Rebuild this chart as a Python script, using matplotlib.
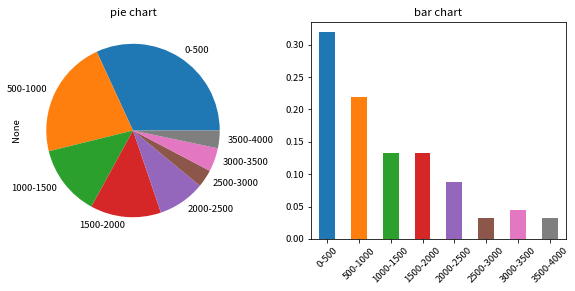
import matplotlib
matplotlib.use("Agg")
import matplotlib.pyplot as plt
import numpy as np

plt.rcParams['font.family'] = ['Noto Sans CJK SC', 'DejaVu Sans']
plt.rcParams['font.size'] = 9.5
plt.rcParams['axes.unicode_minus'] = False

categories = ['0-500', '500-1000', '1000-1500', '1500-2000', '2000-2500',
              '2500-3000', '3000-3500', '3500-4000']
shares = [0.319, 0.220, 0.132, 0.132, 0.088, 0.033, 0.044, 0.033]
colors = ['#1f77b4', '#ff7f0e', '#2ca02c', '#d62728', '#9467bd',
          '#8c564b', '#e377c2', '#7f7f7f']

fig = plt.figure(figsize=(575/72, 291/72), dpi=72)

ax1 = fig.add_axes([(133-108.5)/575, 0.179, 217/575, 0.745])
ax1.pie(shares, labels=categories, colors=colors)
ax1.set_aspect('equal')
ax1.set_title('pie chart')
ax1.set_ylabel('None')

ax2 = fig.add_axes([0.541, 0.179, 0.443, 0.745])
x = np.arange(len(categories))
ax2.bar(x, shares, width=0.5, color=colors)
ax2.set_xlim(-0.5, len(categories) - 0.5)
ax2.set_ylim(0, max(shares) * 1.05)
ax2.set_xticks(x)
ax2.set_xticklabels(categories, rotation=45)
ax2.set_yticks([0, 0.05, 0.10, 0.15, 0.20, 0.25, 0.30])
ax2.set_yticklabels(['0.00', '0.05', '0.10', '0.15', '0.20', '0.25', '0.30'])
ax2.set_title('bar chart')

fig.savefig('out.png', dpi=72)
